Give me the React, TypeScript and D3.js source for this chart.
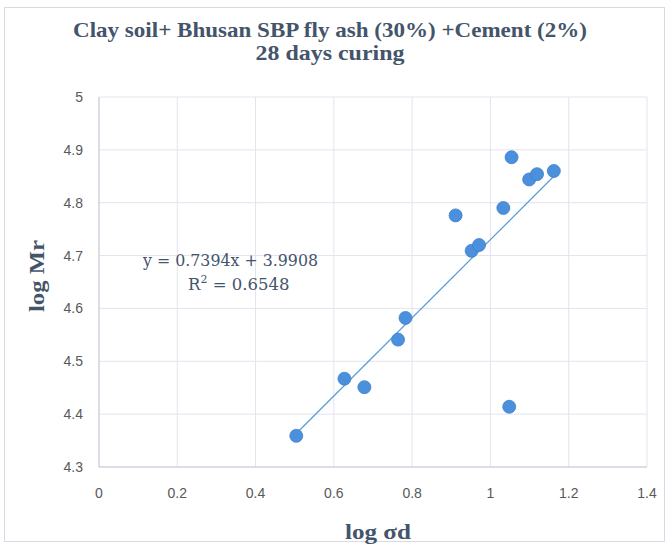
import React from "react";
import * as d3 from "d3";

const xValues = [0.504, 0.627, 0.678, 0.764, 0.783, 0.911, 0.952, 0.971, 1.033, 1.054, 1.048, 1.099, 1.119, 1.162];
const yValues = [4.359, 4.467, 4.451, 4.541, 4.582, 4.776, 4.709, 4.720, 4.790, 4.886, 4.414, 4.844, 4.854, 4.860];
const xTicks = [0, 0.2, 0.4, 0.6, 0.8, 1, 1.2, 1.4];
const yTicks = [4.3, 4.4, 4.5, 4.6, 4.7, 4.8, 4.9, 5];
const slope = 0.7394;
const intercept = 3.9908;
const titleLines = ["Clay soil+ Bhusan SBP fly ash (30%) +Cement (2%)", "28 days curing"];
const titleWidths = [514, 149];

export default function App() {
  const W = 668, H = 545;
  const x = d3.scaleLinear().domain([0, 1.4]).range([99, 647]);
  const y = d3.scaleLinear().domain([4.3, 5]).range([467, 97]);
  const xMin = d3.min(xValues)!, xMax = d3.max(xValues)!;
  const line = d3.line<number>().x(d => x(d)).y(d => y(slope * d + intercept));
  const textColor = "#44546a";
  return (
    <svg width={W} height={H} style={{ position: "absolute", left: 0, top: 0, background: "#fff" }}>
      <rect x={4.5} y={7.5} width={660} height={534} fill="#fff" stroke="#d9d9e6" />
      {titleLines.map((t, i) => (
        <text key={i} x={330} y={37 + i * 23} textAnchor="middle" textLength={titleWidths[i]} lengthAdjust="spacingAndGlyphs" fontFamily="Liberation Serif, serif" fontWeight="bold" fontSize={21} fill={textColor}>{t}</text>
      ))}
      {xTicks.map(t => (
        <line key={"gx" + t} x1={x(t)} x2={x(t)} y1={y(5)} y2={y(4.3)} stroke="#e3e3ef" strokeWidth={1} />
      ))}
      {yTicks.map(t => (
        <line key={"gy" + t} x1={x(0)} x2={x(1.4)} y1={y(t)} y2={y(t)} stroke="#e3e3ef" strokeWidth={1} />
      ))}
      <line x1={x(0)} x2={x(0)} y1={y(5)} y2={y(4.3)} stroke="#c8c8d4" />
      <line x1={x(0)} x2={x(1.4)} y1={y(4.3)} y2={y(4.3)} stroke="#c8c8d4" />
      {yTicks.map(t => (
        <text key={"ly" + t} x={83} y={y(t) + 5} textAnchor="end" fontFamily="Liberation Sans, sans-serif" fontSize={14} fill="#595959">{d3.format("")(t)}</text>
      ))}
      {xTicks.map(t => (
        <text key={"lx" + t} x={x(t)} y={498} textAnchor="middle" fontFamily="Liberation Sans, sans-serif" fontSize={14} fill="#595959">{d3.format("")(t)}</text>
      ))}
      <text x={378} y={539} textAnchor="middle" textLength={66} lengthAdjust="spacingAndGlyphs" fontFamily="Liberation Serif, serif" fontWeight="bold" fontSize={21} fill={textColor}>log σd</text>
      <text transform="translate(44,276) rotate(-90)" textAnchor="middle" textLength={72} lengthAdjust="spacingAndGlyphs" fontFamily="Liberation Serif, serif" fontWeight="bold" fontSize={21} fill={textColor}>log Mr</text>
      <path d={line([xMin, xMax]) || ""} stroke="#5b9bd5" strokeWidth={1.25} fill="none" />
      {xValues.map((xv, i) => (
        <circle key={i} cx={x(xv)} cy={y(yValues[i])} r={6.5} fill="#4a90dc" stroke="#3f80c8" strokeWidth={0.8} />
      ))}
      <text x={143} y={266} textLength={175} lengthAdjust="spacingAndGlyphs" fontFamily="DejaVu Serif, serif" fontSize={16.5} fill="#44546a">y = 0.7394x + 3.9908</text>
      <text x={188} y={290} fontFamily="DejaVu Serif, serif" fontSize={16.5} fill="#44546a">R<tspan dy={-7} fontSize={11}>2</tspan><tspan dy={7}> = 0.6548</tspan></text>
    </svg>
  );
}
